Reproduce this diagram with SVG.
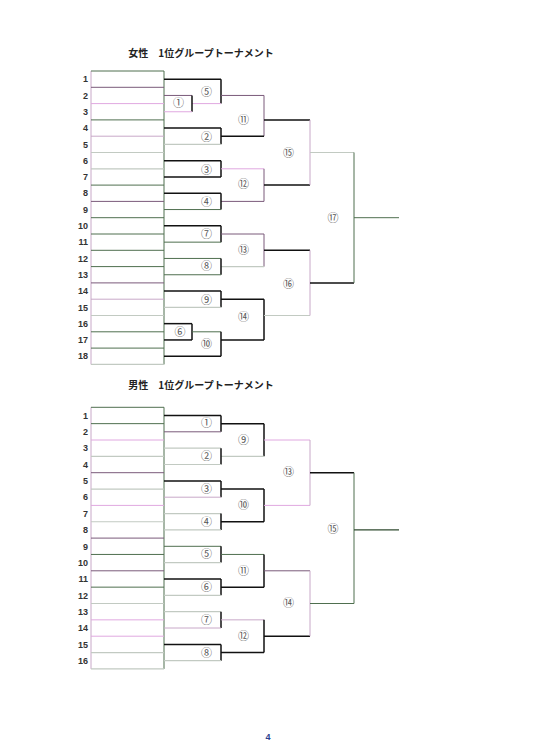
<svg xmlns="http://www.w3.org/2000/svg" width="535" height="756" viewBox="0 0 535 756">
<style>
.t{font-family:"Noto Sans CJK JP","Liberation Sans",sans-serif;font-size:10px;font-weight:bold;fill:#222;text-anchor:middle}
.n{font-family:"Liberation Sans",Arial,sans-serif;font-size:9px;font-weight:bold;fill:#333;text-anchor:end}
.m{font-family:"Noto Sans CJK JP","DejaVu Sans",sans-serif;font-size:11px;fill:#555;text-anchor:middle}
.pg{font-family:"Liberation Sans",Arial,sans-serif;font-size:9px;font-weight:bold;fill:#2b3f8f;text-anchor:middle}
line{fill:none}
.k{stroke:#111;stroke-width:1.5}
.g{stroke:#4f6f4f;stroke-width:1}
.p{stroke:#7a5a7a;stroke-width:1}
.pk{stroke:#e0a8e0;stroke-width:1}
.lg{stroke:#c2cac2;stroke-width:1.2}
.lp{stroke:#c8a8c8;stroke-width:1}
</style>
<rect width="535" height="756" fill="#fff"/>

<!-- ================= WOMEN ================= -->
<text class="t" x="201" y="56.5">女性　1位グループトーナメント</text>

<g id="w-grid">
<line class="lp" x1="91" y1="71" x2="91" y2="364.4"/>
<line class="g" x1="164" y1="71" x2="164" y2="364.4"/>
</g>
<g id="w-r1"><line class="g" x1="91" y1="71" x2="164" y2="71"/><text class="n" x="88" y="82.3">1</text></g>
<g id="w-r2"><line class="p" x1="91" y1="87.3" x2="164" y2="87.3"/><text class="n" x="88" y="98.6">2</text></g>
<g id="w-r3"><line class="pk" x1="91" y1="103.6" x2="164" y2="103.6"/><text class="n" x="88" y="114.9">3</text></g>
<g id="w-r4"><line class="g" x1="91" y1="119.9" x2="164" y2="119.9"/><text class="n" x="88" y="131.2">4</text></g>
<g id="w-r5"><line class="lp" x1="91" y1="136.2" x2="164" y2="136.2"/><text class="n" x="88" y="147.5">5</text></g>
<g id="w-r6"><line class="lg" x1="91" y1="152.5" x2="164" y2="152.5"/><text class="n" x="88" y="163.8">6</text></g>
<g id="w-r7"><line class="lg" x1="91" y1="168.8" x2="164" y2="168.8"/><text class="n" x="88" y="180.1">7</text></g>
<g id="w-r8"><line class="g" x1="91" y1="185.1" x2="164" y2="185.1"/><text class="n" x="88" y="196.4">8</text></g>
<g id="w-r9"><line class="p" x1="91" y1="201.4" x2="164" y2="201.4"/><text class="n" x="88" y="212.7">9</text></g>
<g id="w-r10"><line class="g" x1="91" y1="217.7" x2="164" y2="217.7"/><text class="n" x="88" y="229">10</text></g>
<g id="w-r11"><line class="g" x1="91" y1="234" x2="164" y2="234"/><text class="n" x="88" y="245.3">11</text></g>
<g id="w-r12"><line class="g" x1="91" y1="250.3" x2="164" y2="250.3"/><text class="n" x="88" y="261.6">12</text></g>
<g id="w-r13"><line class="g" x1="91" y1="266.6" x2="164" y2="266.6"/><text class="n" x="88" y="277.9">13</text></g>
<g id="w-r14"><line class="p" x1="91" y1="282.9" x2="164" y2="282.9"/><text class="n" x="88" y="294.2">14</text></g>
<g id="w-r15"><line class="lp" x1="91" y1="299.2" x2="164" y2="299.2"/><text class="n" x="88" y="310.5">15</text></g>
<g id="w-r16"><line class="lg" x1="91" y1="315.5" x2="164" y2="315.5"/><text class="n" x="88" y="326.8">16</text></g>
<g id="w-r17"><line class="g" x1="91" y1="331.8" x2="164" y2="331.8"/><text class="n" x="88" y="343.1">17</text></g>
<g id="w-r18"><line class="g" x1="91" y1="348.1" x2="164" y2="348.1"/><line class="lg" x1="91" y1="364.4" x2="164" y2="364.4"/><text class="n" x="88" y="359.4">18</text></g>

<g id="w-connectors">
<!-- 5 -->
<line class="k" x1="164" y1="79.15" x2="221" y2="79.15"/>
<line class="k" x1="221" y1="79.15" x2="221" y2="103.6"/>
<line class="pk" x1="192" y1="103.6" x2="221" y2="103.6"/>
<!-- 1 -->
<line class="p" x1="164" y1="95.45" x2="192" y2="95.45"/>
<line class="k" x1="192" y1="95.45" x2="192" y2="111.75"/>
<line class="pk" x1="164" y1="111.75" x2="192" y2="111.75"/>
<!-- 11 -->
<line class="p" x1="221" y1="95.45" x2="264" y2="95.45"/>
<line class="p" x1="264" y1="95.45" x2="264" y2="136.2"/>
<line class="k" x1="221" y1="136.2" x2="264" y2="136.2"/>
<line class="k" x1="264" y1="119.9" x2="310" y2="119.9"/>
<!-- 2 -->
<line class="k" x1="164" y1="128.05" x2="221" y2="128.05"/>
<line class="k" x1="221" y1="128.05" x2="221" y2="144.35"/>
<line class="lg" x1="164" y1="144.35" x2="221" y2="144.35"/>
<!-- 3 -->
<line class="k" x1="164" y1="160.65" x2="221" y2="160.65"/>
<line class="k" x1="221" y1="160.65" x2="221" y2="176.95"/>
<line class="k" x1="164" y1="176.95" x2="221" y2="176.95"/>
<!-- 12 -->
<line class="pk" x1="221" y1="168.8" x2="264" y2="168.8"/>
<line class="p" x1="264" y1="168.8" x2="264" y2="201.4"/>
<line class="p" x1="221" y1="201.4" x2="264" y2="201.4"/>
<line class="k" x1="264" y1="185.1" x2="310" y2="185.1"/>
<!-- 4 -->
<line class="k" x1="164" y1="193.25" x2="221" y2="193.25"/>
<line class="k" x1="221" y1="193.25" x2="221" y2="209.55"/>
<line class="g" x1="164" y1="209.55" x2="221" y2="209.55"/>
<!-- 15 -->
<line class="lp" x1="310" y1="119.9" x2="310" y2="185.1"/>
<line class="lg" x1="310" y1="152.5" x2="354" y2="152.5"/>
<!-- 7 -->
<line class="k" x1="164" y1="225.85" x2="221" y2="225.85"/>
<line class="k" x1="221" y1="225.85" x2="221" y2="242.15"/>
<line class="g" x1="164" y1="242.15" x2="221" y2="242.15"/>
<!-- 13 -->
<line class="p" x1="221" y1="234" x2="264" y2="234"/>
<line class="p" x1="264" y1="234" x2="264" y2="266.6"/>
<line class="lg" x1="221" y1="266.6" x2="264" y2="266.6"/>
<line class="k" x1="264" y1="250.3" x2="310" y2="250.3"/>
<!-- 8 -->
<line class="g" x1="164" y1="258.45" x2="221" y2="258.45"/>
<line class="k" x1="221" y1="258.45" x2="221" y2="274.75"/>
<line class="g" x1="164" y1="274.75" x2="221" y2="274.75"/>
<!-- 9 -->
<line class="k" x1="164" y1="291.05" x2="221" y2="291.05"/>
<line class="k" x1="221" y1="291.05" x2="221" y2="307.35"/>
<line class="lg" x1="164" y1="307.35" x2="221" y2="307.35"/>
<!-- 14 -->
<line class="k" x1="221" y1="299.2" x2="264" y2="299.2"/>
<line class="k" x1="264" y1="299.2" x2="264" y2="339.95"/>
<line class="k" x1="221" y1="339.95" x2="264" y2="339.95"/>
<line class="lg" x1="264" y1="315.5" x2="310" y2="315.5"/>
<!-- 6 -->
<line class="k" x1="164" y1="323.65" x2="192" y2="323.65"/>
<line class="k" x1="192" y1="323.65" x2="192" y2="339.95"/>
<line class="k" x1="164" y1="339.95" x2="192" y2="339.95"/>
<!-- 10 -->
<line class="g" x1="192" y1="331.8" x2="221" y2="331.8"/>
<line class="k" x1="221" y1="331.8" x2="221" y2="356.25"/>
<line class="k" x1="164" y1="356.25" x2="221" y2="356.25"/>
<!-- 16 -->
<line class="lp" x1="310" y1="250.3" x2="310" y2="315.5"/>
<line class="k" x1="310" y1="282.9" x2="354" y2="282.9"/>
<!-- 17 -->
<line class="g" x1="354" y1="152.5" x2="354" y2="282.9"/>
<line class="g" x1="354" y1="217.7" x2="399" y2="217.7"/>
</g>

<g id="w-m1"><text class="m" x="178.5" y="107">①</text></g>
<g id="w-m2"><text class="m" x="206.5" y="140.5">②</text></g>
<g id="w-m3"><text class="m" x="206.5" y="173.8">③</text></g>
<g id="w-m4"><text class="m" x="206.5" y="205.8">④</text></g>
<g id="w-m5"><text class="m" x="206.5" y="95.5">⑤</text></g>
<g id="w-m6"><text class="m" x="180" y="335.5">⑥</text></g>
<g id="w-m7"><text class="m" x="206.5" y="237.5">⑦</text></g>
<g id="w-m8"><text class="m" x="206.5" y="269.8">⑧</text></g>
<g id="w-m9"><text class="m" x="206.5" y="303.8">⑨</text></g>
<g id="w-m10"><text class="m" x="206.5" y="347.8">⑩</text></g>
<g id="w-m11"><text class="m" x="243.5" y="123.8">⑪</text></g>
<g id="w-m12"><text class="m" x="243.5" y="188">⑫</text></g>
<g id="w-m13"><text class="m" x="243.5" y="253.8">⑬</text></g>
<g id="w-m14"><text class="m" x="243.5" y="321">⑭</text></g>
<g id="w-m15"><text class="m" x="288.5" y="157">⑮</text></g>
<g id="w-m16"><text class="m" x="288.5" y="287.8">⑯</text></g>
<g id="w-m17"><text class="m" x="333" y="221.8">⑰</text></g>

<!-- ================= MEN ================= -->
<text class="t" x="201" y="388.5">男性　1位グループトーナメント</text>

<g id="m-grid">
<line class="lp" x1="91" y1="407.3" x2="91" y2="668.9"/>
<line class="g" x1="164" y1="407.3" x2="164" y2="668.9"/>
</g>
<g id="m-r1"><line class="g" x1="91" y1="407.3" x2="164" y2="407.3"/><text class="n" x="88" y="418.7">1</text></g>
<g id="m-r2"><line class="g" x1="91" y1="423.65" x2="164" y2="423.65"/><text class="n" x="88" y="435">2</text></g>
<g id="m-r3"><line class="pk" x1="91" y1="440" x2="164" y2="440"/><text class="n" x="88" y="451.4">3</text></g>
<g id="m-r4"><line class="lg" x1="91" y1="456.35" x2="164" y2="456.35"/><text class="n" x="88" y="467.7">4</text></g>
<g id="m-r5"><line class="p" x1="91" y1="472.7" x2="164" y2="472.7"/><text class="n" x="88" y="484.1">5</text></g>
<g id="m-r6"><line class="lg" x1="91" y1="489.05" x2="164" y2="489.05"/><text class="n" x="88" y="500.4">6</text></g>
<g id="m-r7"><line class="pk" x1="91" y1="505.4" x2="164" y2="505.4"/><text class="n" x="88" y="516.8">7</text></g>
<g id="m-r8"><line class="lg" x1="91" y1="521.75" x2="164" y2="521.75"/><text class="n" x="88" y="533.1">8</text></g>
<g id="m-r9"><line class="p" x1="91" y1="538.1" x2="164" y2="538.1"/><text class="n" x="88" y="549.5">9</text></g>
<g id="m-r10"><line class="g" x1="91" y1="554.45" x2="164" y2="554.45"/><text class="n" x="88" y="565.8">10</text></g>
<g id="m-r11"><line class="p" x1="91" y1="570.8" x2="164" y2="570.8"/><text class="n" x="88" y="582.2">11</text></g>
<g id="m-r12"><line class="g" x1="91" y1="587.15" x2="164" y2="587.15"/><text class="n" x="88" y="598.5">12</text></g>
<g id="m-r13"><line class="lg" x1="91" y1="603.5" x2="164" y2="603.5"/><text class="n" x="88" y="614.9">13</text></g>
<g id="m-r14"><line class="pk" x1="91" y1="619.85" x2="164" y2="619.85"/><text class="n" x="88" y="631.2">14</text></g>
<g id="m-r15"><line class="pk" x1="91" y1="636.2" x2="164" y2="636.2"/><text class="n" x="88" y="647.6">15</text></g>
<g id="m-r16"><line class="lg" x1="91" y1="652.55" x2="164" y2="652.55"/><line class="lg" x1="91" y1="668.9" x2="164" y2="668.9"/><text class="n" x="88" y="663.9">16</text></g>

<g id="m-connectors">
<!-- 1 -->
<line class="k" x1="164" y1="415.5" x2="221" y2="415.5"/>
<line class="k" x1="221" y1="415.5" x2="221" y2="431.8"/>
<line class="p" x1="164" y1="431.8" x2="221" y2="431.8"/>
<!-- 9 -->
<line class="k" x1="221" y1="423.65" x2="264" y2="423.65"/>
<line class="k" x1="264" y1="423.65" x2="264" y2="456.35"/>
<line class="lg" x1="221" y1="456.35" x2="264" y2="456.35"/>
<line class="pk" x1="264" y1="440" x2="310" y2="440"/>
<!-- 2 -->
<line class="lg" x1="164" y1="448.2" x2="221" y2="448.2"/>
<line class="k" x1="221" y1="448.2" x2="221" y2="464.5"/>
<line class="lg" x1="164" y1="464.5" x2="221" y2="464.5"/>
<!-- 3 -->
<line class="k" x1="164" y1="480.9" x2="221" y2="480.9"/>
<line class="k" x1="221" y1="480.9" x2="221" y2="497.2"/>
<line class="lp" x1="164" y1="497.2" x2="221" y2="497.2"/>
<!-- 10 -->
<line class="k" x1="221" y1="489.05" x2="264" y2="489.05"/>
<line class="k" x1="264" y1="489.05" x2="264" y2="521.75"/>
<line class="k" x1="221" y1="521.75" x2="264" y2="521.75"/>
<line class="pk" x1="264" y1="505.4" x2="310" y2="505.4"/>
<!-- 4 -->
<line class="lg" x1="164" y1="513.6" x2="221" y2="513.6"/>
<line class="k" x1="221" y1="513.6" x2="221" y2="529.9"/>
<line class="lg" x1="164" y1="529.9" x2="221" y2="529.9"/>
<!-- 13 -->
<line class="lp" x1="310" y1="440" x2="310" y2="505.4"/>
<line class="k" x1="310" y1="472.7" x2="354" y2="472.7"/>
<!-- 5 -->
<line class="g" x1="164" y1="546.3" x2="221" y2="546.3"/>
<line class="k" x1="221" y1="546.3" x2="221" y2="562.6"/>
<line class="lg" x1="164" y1="562.6" x2="221" y2="562.6"/>
<!-- 11 -->
<line class="g" x1="221" y1="554.45" x2="264" y2="554.45"/>
<line class="k" x1="264" y1="554.45" x2="264" y2="587.15"/>
<line class="k" x1="221" y1="587.15" x2="264" y2="587.15"/>
<line class="p" x1="264" y1="570.8" x2="310" y2="570.8"/>
<!-- 6 -->
<line class="k" x1="164" y1="579" x2="221" y2="579"/>
<line class="k" x1="221" y1="579" x2="221" y2="595.3"/>
<line class="lg" x1="164" y1="595.3" x2="221" y2="595.3"/>
<!-- 7 -->
<line class="lg" x1="164" y1="611.7" x2="221" y2="611.7"/>
<line class="k" x1="221" y1="611.7" x2="221" y2="628"/>
<line class="lp" x1="164" y1="628" x2="221" y2="628"/>
<!-- 12 -->
<line class="lp" x1="221" y1="619.85" x2="264" y2="619.85"/>
<line class="k" x1="264" y1="619.85" x2="264" y2="652.55"/>
<line class="k" x1="221" y1="652.55" x2="264" y2="652.55"/>
<line class="k" x1="264" y1="636.2" x2="310" y2="636.2"/>
<!-- 8 -->
<line class="k" x1="164" y1="644.4" x2="221" y2="644.4"/>
<line class="k" x1="221" y1="644.4" x2="221" y2="660.7"/>
<line class="lg" x1="164" y1="660.7" x2="221" y2="660.7"/>
<!-- 14 -->
<line class="lp" x1="310" y1="570.8" x2="310" y2="636.2"/>
<line class="g" x1="310" y1="603.5" x2="354" y2="603.5"/>
<!-- 15 -->
<line class="g" x1="354" y1="472.7" x2="354" y2="603.5"/>
<line class="k" x1="354" y1="529.9" x2="399" y2="529.9" style="stroke:#2f4a2f;stroke-width:1.2"/>
</g>

<g id="m-m1"><text class="m" x="206.5" y="426.5">①</text></g>
<g id="m-m2"><text class="m" x="206.5" y="459.8">②</text></g>
<g id="m-m3"><text class="m" x="206.5" y="492.8">③</text></g>
<g id="m-m4"><text class="m" x="206.5" y="525.5">④</text></g>
<g id="m-m5"><text class="m" x="206.5" y="557.8">⑤</text></g>
<g id="m-m6"><text class="m" x="206.5" y="590.8">⑥</text></g>
<g id="m-m7"><text class="m" x="206.5" y="623.5">⑦</text></g>
<g id="m-m8"><text class="m" x="206.5" y="656.5">⑧</text></g>
<g id="m-m9"><text class="m" x="243.5" y="443.8">⑨</text></g>
<g id="m-m10"><text class="m" x="243.5" y="508.8">⑩</text></g>
<g id="m-m11"><text class="m" x="243.5" y="574.5">⑪</text></g>
<g id="m-m12"><text class="m" x="243.5" y="639.8">⑫</text></g>
<g id="m-m13"><text class="m" x="288.5" y="475.8">⑬</text></g>
<g id="m-m14"><text class="m" x="288.5" y="606.8">⑭</text></g>
<g id="m-m15"><text class="m" x="333" y="532.8">⑮</text></g>

<text class="pg" x="268" y="740">4</text>
</svg>
